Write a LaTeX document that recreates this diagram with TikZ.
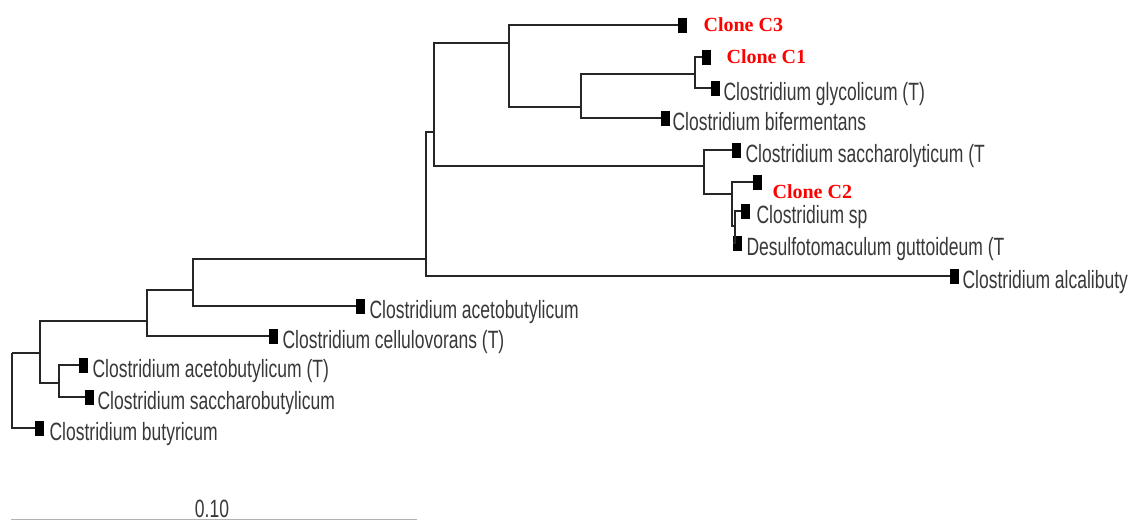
\documentclass[tikz,border=0pt]{standalone}
\usepackage{fontspec}
\setmainfont{Liberation Sans}
\newfontfamily\taxafont[FakeStretch=0.70]{Liberation Sans}
\newfontfamily\clonefont{Liberation Serif}
\usetikzlibrary{positioning}

\begin{document}
\begin{tikzpicture}[x=1pt, y=-1pt,
  branch/.style={line width=1.8pt, draw=black!85},
  leaf/.style={rectangle, fill=black, minimum width=9pt, minimum height=15pt,
               inner sep=0pt, anchor=west},
  taxon/.style={font=\taxafont\fontsize{25}{25}\selectfont, text=black!78,
                inner sep=0pt, text height=24pt, text depth=0pt},
  clone/.style={font=\clonefont\bfseries\fontsize{20}{20}\selectfont, text=red,
                inner sep=0pt, text height=12pt, text depth=0pt},
  scalebar/.style={line width=1pt, draw=black!30},
]
  \useasboundingbox (0,0) rectangle (1129,520);

  % leaves
  \node[leaf] (clone_c3) at (678,25) {};
  \node[leaf] (clone_c1) at (702,57) {};
  \node[leaf] (glycolicum) at (711,88) {};
  \node[leaf] (bifermentans) at (661,118) {};
  \node[leaf] (saccharolyticum) at (732,150) {};
  \node[leaf] (clone_c2) at (753,182) {};
  \node[leaf] (clost_sp) at (741,211) {};
  \node[leaf] (guttoideum) at (733,243) {};
  \node[leaf] (alcalibuty) at (950,276) {};
  \node[leaf] (acetobut) at (356,306) {};
  \node[leaf] (cellulovorans) at (269,336) {};
  \node[leaf] (acetobut_t) at (79,365) {};
  \node[leaf] (saccharobut) at (85,397) {};
  \node[leaf] (butyricum) at (35,428) {};

  % labels
  \node[clone, right=16pt of clone_c3] {Clone C3};
  \node[clone, right=15pt of clone_c1] {Clone C1};
  \node[clone, right=10pt of clone_c2, yshift=-10pt] {Clone C2};
  \node[taxon, right=3pt of glycolicum] {Clostridium glycolicum (T)};
  \node[taxon, right=2pt of bifermentans] {Clostridium bifermentans};
  \node[taxon, right=4pt of saccharolyticum] {Clostridium saccharolyticum (T};
  \node[taxon, right=6pt of clost_sp] {Clostridium sp};
  \node[taxon, right=4pt of guttoideum] {Desulfotomaculum guttoideum (T};
  \node[taxon, right=3pt of alcalibuty] {Clostridium alcalibuty};
  \node[taxon, right=4pt of acetobut] {Clostridium acetobutylicum};
  \node[taxon, right=4pt of cellulovorans] {Clostridium cellulovorans (T)};
  \node[taxon, right=4pt of acetobut_t] {Clostridium acetobutylicum (T)};
  \node[taxon, right=3pt of saccharobut] {Clostridium saccharobutylicum};
  \node[taxon, right=5pt of butyricum] {Clostridium butyricum};

  % internal nodes
  \coordinate (root) at (12,353);
  \coordinate (clade_a) at (40,353);
  \coordinate (clade_ab) at (59,383);
  \coordinate (clade_b) at (147,321);
  \coordinate (clade_c) at (193,290);
  \coordinate (clade_d) at (426,259);
  \coordinate (clade_e) at (434,132);
  \coordinate (clade_f) at (509,43);
  \coordinate (clade_g) at (581,107);
  \coordinate (clade_h) at (695,74);
  \coordinate (clade_i) at (704,166);
  \coordinate (clade_j) at (732,194);
  \coordinate (clade_k) at (735,226);

  % branches
  \draw[branch] (root) |- (clade_a);
  \draw[branch] (root) |- (butyricum.west);
  \draw[branch] (clade_a) |- (clade_b);
  \draw[branch] (clade_a) |- (clade_ab);
  \draw[branch] (clade_ab) |- (acetobut_t.west);
  \draw[branch] (clade_ab) |- (saccharobut.west);
  \draw[branch] (clade_b) |- (clade_c);
  \draw[branch] (clade_b) |- (cellulovorans.west);
  \draw[branch] (clade_c) |- (clade_d);
  \draw[branch] (clade_c) |- (acetobut.west);
  \draw[branch] (clade_d) |- (clade_e);
  \draw[branch] (clade_d) |- (alcalibuty.west);
  \draw[branch] (clade_e) |- (clade_f);
  \draw[branch] (clade_e) |- (clade_i);
  \draw[branch] (clade_f) |- (clone_c3.west);
  \draw[branch] (clade_f) |- (clade_g);
  \draw[branch] (clade_g) |- (clade_h);
  \draw[branch] (clade_g) |- (bifermentans.west);
  \draw[branch] (clade_h) |- (clone_c1.west);
  \draw[branch] (clade_h) |- (glycolicum.west);
  \draw[branch] (clade_i) |- (saccharolyticum.west);
  \draw[branch] (clade_i) |- (clade_j);
  \draw[branch] (clade_j) |- (clone_c2.west);
  \draw[branch] (clade_j) |- (clade_k);
  \draw[branch] (clade_k) |- (clost_sp.west);
  \draw[branch] (clade_k) |- (guttoideum.west);

  % scale bar
  \coordinate (bar_left) at (11,519);
  \coordinate (bar_right) at (417,519);
  \draw[scalebar] (bar_left) -- (bar_right);
  \node[taxon, text height=18pt, anchor=base] (bar_label) at (212,517) {0.10};
\end{tikzpicture}
\end{document}
